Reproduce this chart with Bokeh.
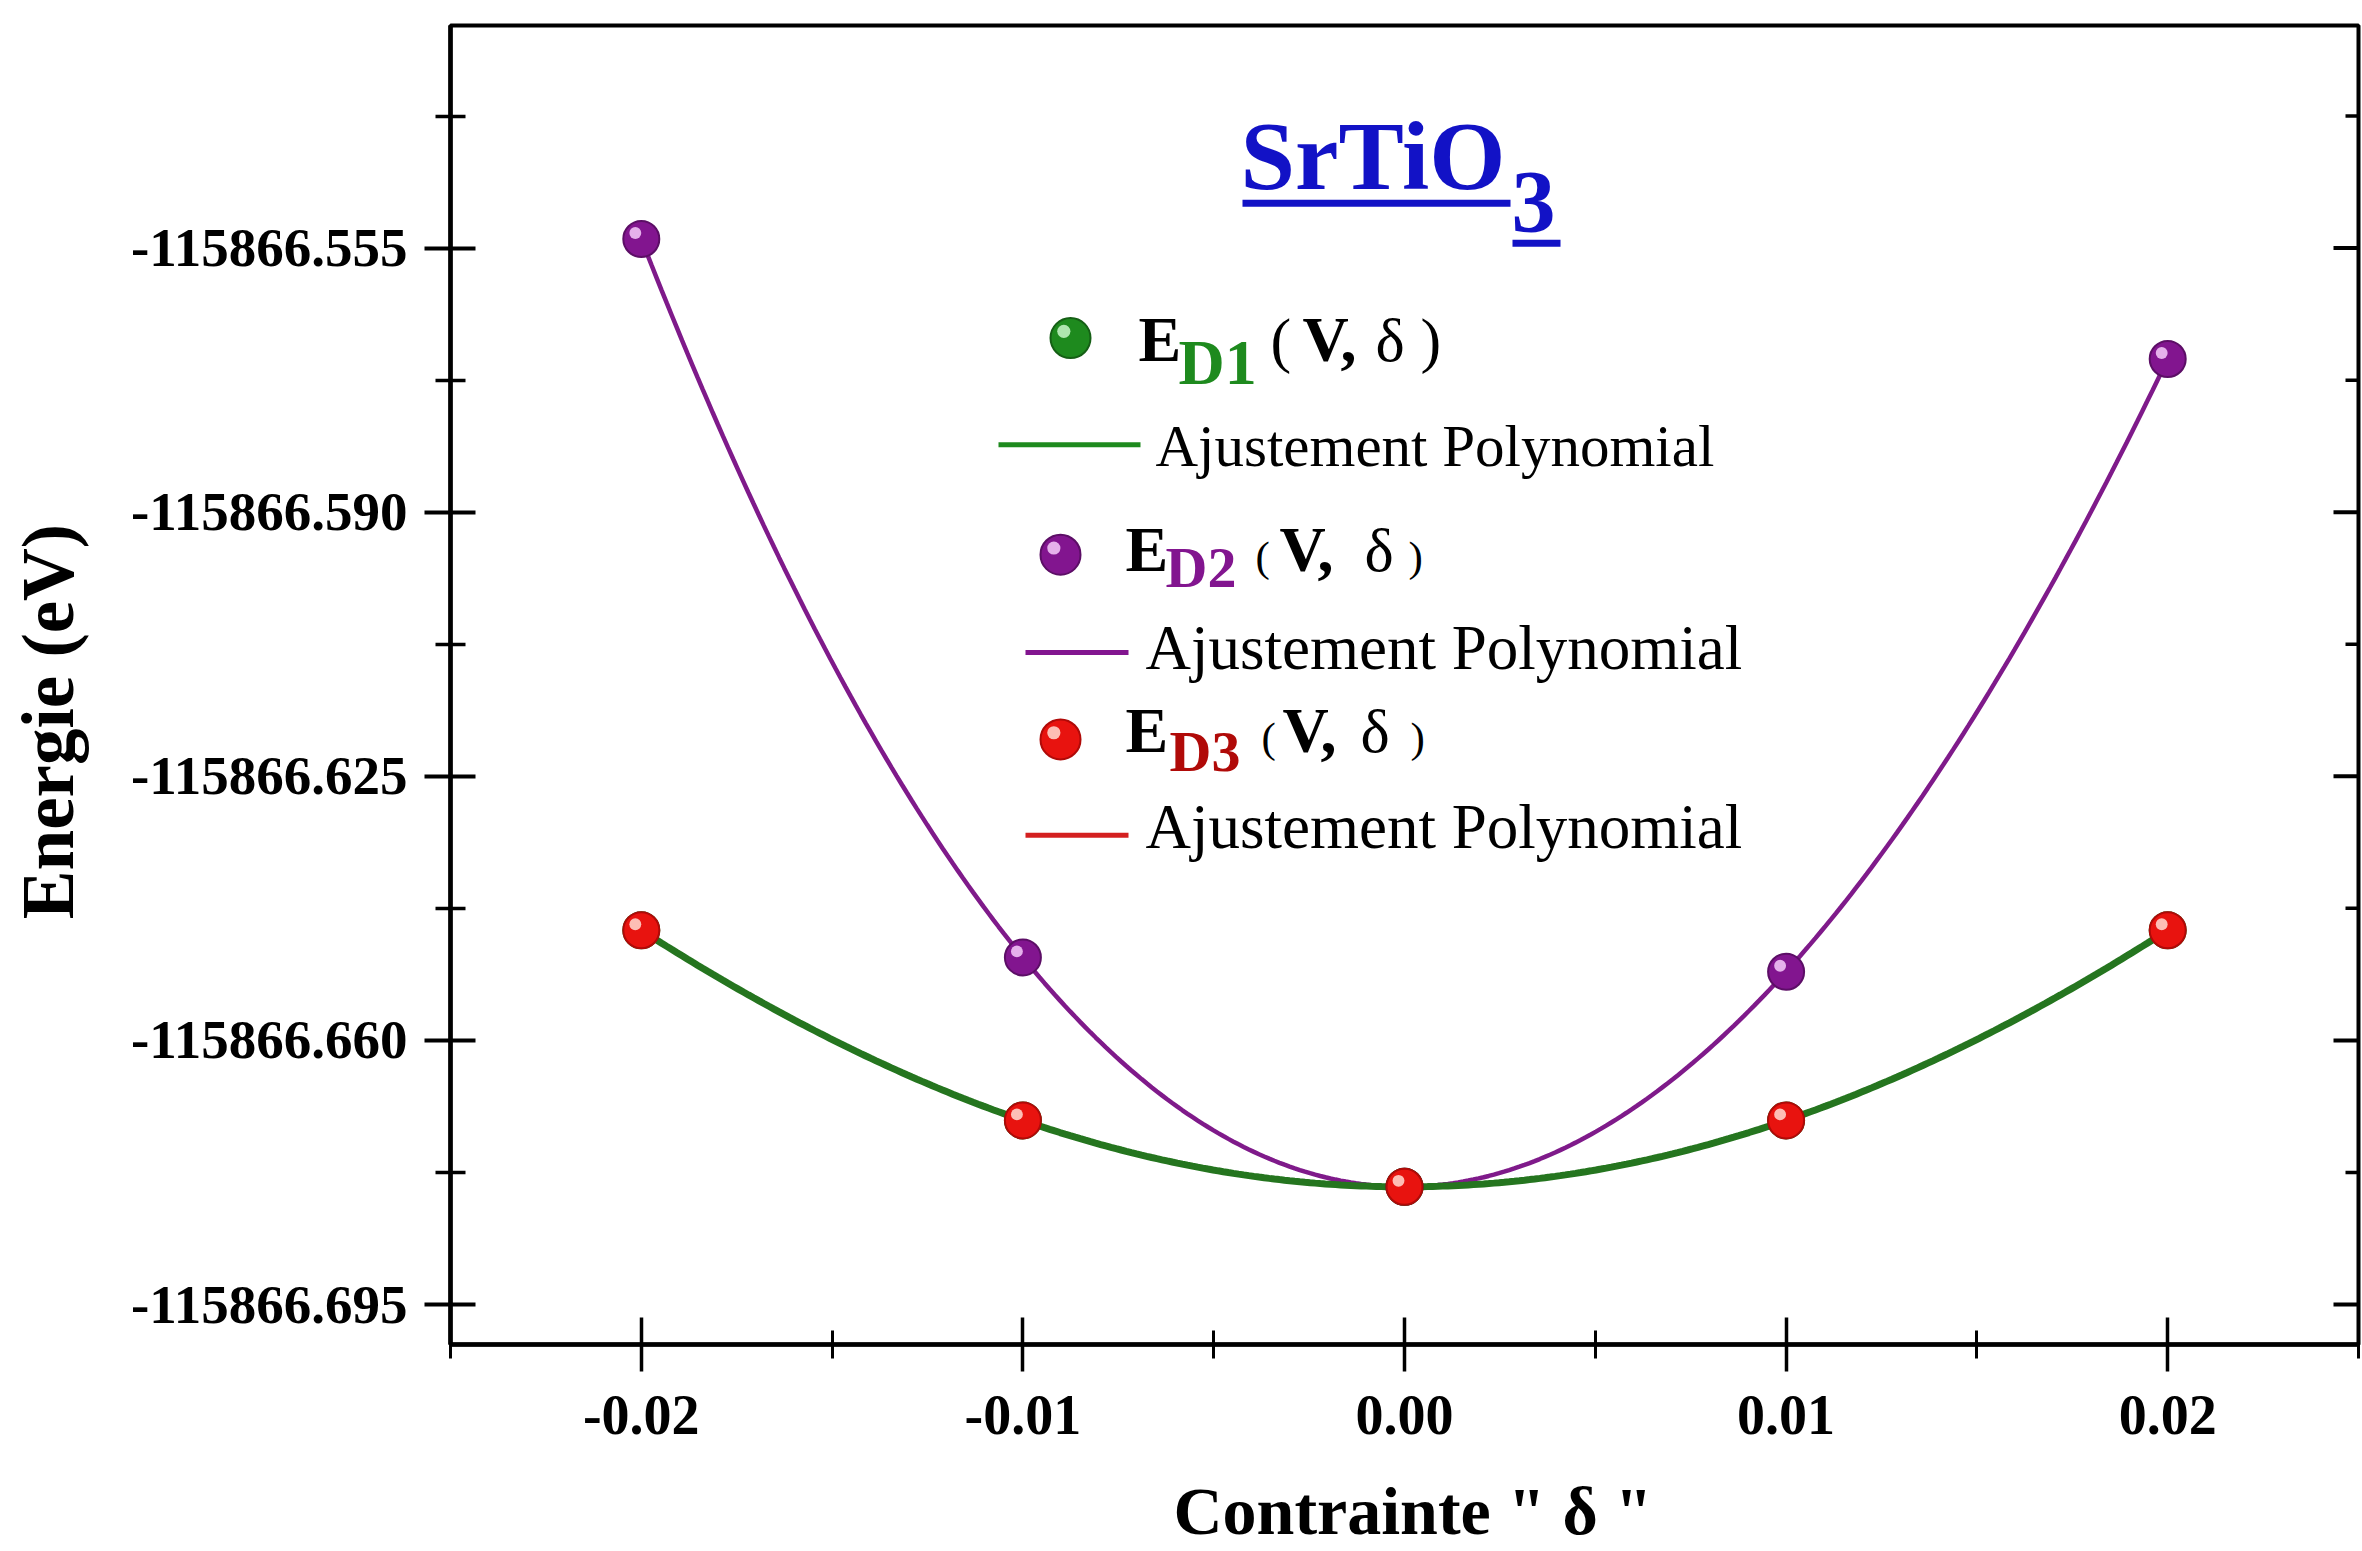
import numpy as np
from bokeh.plotting import figure
from bokeh.models import FixedTicker, PrintfTickFormatter, Range1d, Label
from bokeh.embed import file_html
from bokeh.resources import INLINE

# ---------------- data ----------------
delta = [-0.02, -0.01, 0.00, 0.01, 0.02]
E_D1 = [-115866.6454, -115866.6706, -115866.6794, -115866.6706, -115866.6454]
E_D2 = [-115866.5538, -115866.6490, -115866.6794, -115866.6509, -115866.5697]
E_D3 = [-115866.6454, -115866.6706, -115866.6794, -115866.6706, -115866.6454]

X_TICKS = [-0.02, -0.01, 0.00, 0.01, 0.02]
X_MINOR = [-0.025, -0.015, -0.005, 0.005, 0.015, 0.025]
Y_TICKS = [-115866.695, -115866.660, -115866.625, -115866.590, -115866.555]
Y_MINOR = [-115866.6775, -115866.6425, -115866.6075, -115866.5725, -115866.5375]

X_START, X_END = -0.025, 0.025
Y_START, Y_END = -115866.7003, -115866.5255

W, H = 2362, 1551
FL, FR, FT, FB = 450, 4, 25, 205
FW, FH = W - FL - FR, H - FT - FB

SERIF = "Liberation Serif"
BASE_FIX = 0.35  # baseline correction (fraction of font size)
NBSP = "\u00a0"


def px2x(px):
    return X_START + (px - FL) / FW * (X_END - X_START)


def py2y(py):
    return Y_END - (py - FT) / FH * (Y_END - Y_START)


def poly_fit(x, y, deg=4, n=300):
    x = np.asarray(x)
    y = np.asarray(y)
    y0 = y.min()
    c = np.polyfit(x, y - y0, deg)
    xs = np.linspace(x.min(), x.max(), n)
    return xs, np.polyval(c, xs) + y0


p = figure(width=W, height=H, x_range=Range1d(X_START, X_END), y_range=Range1d(Y_START, Y_END),
           output_backend="svg", toolbar_location=None,
           min_border_left=FL, min_border_right=FR, min_border_top=FT, min_border_bottom=FB,
           background_fill_color="white", border_fill_color="white")
p.grid.visible = False
p.outline_line_color = "black"
p.outline_line_width = 4

# bottom axis
xa = p.xaxis[0]
xa.ticker = FixedTicker(ticks=X_TICKS, minor_ticks=X_MINOR)
xa.formatter = PrintfTickFormatter(format="%.2f")
xa.axis_line_width = 4.5
xa.major_tick_in = 27
xa.major_tick_out = 27
xa.minor_tick_in = 14
xa.minor_tick_out = 14
xa.major_tick_line_width = 3.5
xa.minor_tick_line_width = 3
xa.major_label_text_font = SERIF
xa.major_label_text_font_style = "bold"
xa.major_label_text_font_size = "56px"
xa.major_label_text_color = "black"
xa.major_label_standoff = 24
xa.axis_label = NBSP + 'Contrainte " δ "'
xa.axis_label_text_font = SERIF
xa.axis_label_text_font_style = "bold"
xa.axis_label_text_font_size = "68px"
xa.axis_label_text_color = "black"
xa.axis_label_standoff = 36

# left axis
ya = p.yaxis[0]
ya.ticker = FixedTicker(ticks=Y_TICKS, minor_ticks=Y_MINOR)
ya.formatter = PrintfTickFormatter(format="%.3f")
ya.axis_line_width = 4.5
ya.major_tick_in = 25
ya.major_tick_out = 26
ya.minor_tick_in = 15
ya.minor_tick_out = 15
ya.major_tick_line_width = 4
ya.minor_tick_line_width = 3.5
ya.major_label_text_font = SERIF
ya.major_label_text_font_style = "bold"
ya.major_label_text_font_size = "55px"
ya.major_label_text_color = "black"
ya.major_label_standoff = 17
ya.axis_label = "Energie (eV)" + NBSP * 4
ya.axis_label_text_font = SERIF
ya.axis_label_text_font_style = "bold"
ya.axis_label_text_font_size = "73px"
ya.axis_label_text_color = "black"
ya.axis_label_standoff = 39

# right-side inward ticks
xr_end = px2x(FL + FW)
p.segment(x0=[px2x(FL + FW - 25)] * len(Y_TICKS), y0=Y_TICKS, x1=[xr_end] * len(Y_TICKS), y1=Y_TICKS,
          line_color="black", line_width=4)
p.segment(x0=[px2x(FL + FW - 13)] * len(Y_MINOR), y0=Y_MINOR, x1=[xr_end] * len(Y_MINOR), y1=Y_MINOR,
          line_color="black", line_width=3.5)

# ---------------- colours ----------------
GREEN_LINE = "#25751F"
PURPLE_LINE = "#7F1A8A"
RED_LINE = "#D42020"
GREEN_M, GREEN_E, GREEN_H = "#1E8A1E", "#155F15", "#BFF0BF"
PURPLE_M, PURPLE_E, PURPLE_H = "#82158F", "#5C0E66", "#EFC2F5"
RED_M, RED_E, RED_H = "#E8130F", "#B00A08", "#FFD2C8"
BLUE = "#1212C6"

# ---------------- fit curves ----------------
xs2, ys2 = poly_fit(delta, E_D2)
xs3, ys3 = poly_fit(delta, E_D3)
xs1, ys1 = poly_fit(delta, E_D1)
p.line(xs2, ys2, line_color=PURPLE_LINE, line_width=4.5)
p.line(xs3, ys3, line_color=RED_LINE, line_width=5)
p.line(xs1, ys1, line_color=GREEN_LINE, line_width=7)

# ---------------- sphere markers ----------------
HX = px2x(FL - 6) - px2x(FL)
HY = py2y(FT - 6) - py2y(FT)


def sphere(xv, yv, size, col, edge, hl):
    xv = np.asarray(xv, dtype=float)
    yv = np.asarray(yv, dtype=float)
    p.scatter(xv, yv, size=size, fill_color=col, line_color=edge, line_width=2)
    p.scatter(xv + HX * size / 36, yv + HY * size / 36, size=size * 0.33,
              fill_color=hl, line_color=None, fill_alpha=0.9)


sphere(delta, E_D2, 36, PURPLE_M, PURPLE_E, PURPLE_H)
sphere(delta, E_D1, 36, GREEN_M, GREEN_E, GREEN_H)
sphere(delta, E_D3, 36, RED_M, RED_E, RED_H)


# ---------------- texts ----------------
def txt(px, py, text, size, color="black", style="normal", font=SERIF, align="left"):
    p.add_layout(Label(x=px2x(px), y=py2y(py - BASE_FIX * size), text=text, text_font=font,
                       text_font_size=f"{size}px", text_color=color, text_font_style=style,
                       text_align=align, text_baseline="alphabetic"))


def hseg(px0, px1, py, color, width):
    p.segment(x0=[px2x(px0)], y0=[py2y(py)], x1=[px2x(px1)], y1=[py2y(py)],
              line_color=color, line_width=width)


# title
txt(1240, 190, "SrTiO", 98, BLUE, "bold")
txt(1511, 233, "3", 88, BLUE, "bold")
hseg(1242, 1510, 203, BLUE, 7)
hseg(1512, 1560, 243, BLUE, 7)

# legend
sphere([px2x(1070)], [py2y(338)], 40, GREEN_M, GREEN_E, GREEN_H)
txt(1138, 362, "E", 64, "black", "bold")
txt(1178, 385, "D1", 64, GREEN_M, "bold")
txt(1270, 362, "(", 62)
txt(1302, 362, "V,", 64, "black", "bold")
txt(1375, 362, "δ", 62)
txt(1420, 362, ")", 62)
hseg(998, 1140, 445, GREEN_M, 5)
txt(1155, 467, "Ajustement Polynomial", 59)

sphere([px2x(1060)], [py2y(555)], 40, PURPLE_M, PURPLE_E, PURPLE_H)
txt(1125, 572, "E", 64, "black", "bold")
txt(1165, 588, "D2", 58, PURPLE_M, "bold")
txt(1255, 572, "(", 43)
txt(1279, 572, "V,", 64, "black", "bold")
txt(1364, 572, "δ", 62)
txt(1408, 572, ")", 43)
hseg(1025, 1128, 653, PURPLE_M, 5)
txt(1145, 670, "Ajustement Polynomial", 63)

sphere([px2x(1060)], [py2y(740)], 40, RED_M, RED_E, RED_H)
txt(1125, 753, "E", 64, "black", "bold")
txt(1169, 772, "D3", 58, RED_E, "bold")
txt(1261, 753, "(", 43)
txt(1282, 753, "V,", 64, "black", "bold")
txt(1360, 753, "δ", 62)
txt(1410, 753, ")", 43)
hseg(1025, 1128, 836, RED_LINE, 5)
txt(1145, 850, "Ajustement Polynomial", 63)

open("out.html", "w").write(file_html(p, INLINE))
